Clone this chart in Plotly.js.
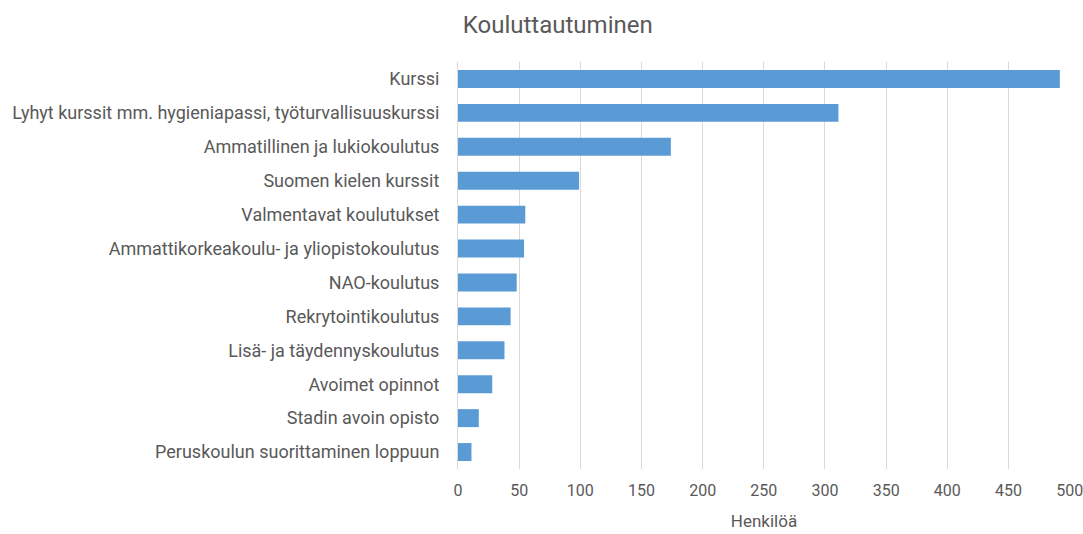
<!DOCTYPE html>
<html>
<head>
<meta charset="utf-8">
<script src="https://cdn.plot.ly/plotly-3.0.1.min.js"></script>
<style>html,body{margin:0;padding:0;background:#fff;}#chart{width:1083px;height:534px;}</style>
</head>
<body>
<div id="chart"></div>
<script>
const categories = [
  "Kurssi",
  "Lyhyt kurssit mm. hygieniapassi, työturvallisuuskurssi",
  "Ammatillinen ja lukiokoulutus",
  "Suomen kielen kurssit",
  "Valmentavat koulutukset",
  "Ammattikorkeakoulu- ja yliopistokoulutus",
  "NAO-koulutus",
  "Rekrytointikoulutus",
  "Lisä- ja täydennyskoulutus",
  "Avoimet opinnot",
  "Stadin avoin opisto",
  "Peruskoulun suorittaminen loppuun"
];
const values = [492, 311, 174, 99, 55, 54, 48, 43, 38, 28, 17, 11];
const xTicks = [0, 50, 100, 150, 200, 250, 300, 350, 400, 450, 500];

const font = "Roboto, 'Open Sans', sans-serif";
Plotly.newPlot("chart", [{
  type: "bar",
  orientation: "h",
  y: categories,
  x: values,
  marker: {color: "#5b9bd5"},
  hoverinfo: "x+y"
}], {
  width: 1083, height: 534,
  margin: {l: 458, r: 13, t: 62, b: 65},
  paper_bgcolor: "#fff", plot_bgcolor: "#fff",
  bargap: 0.47,
  font: {family: font, color: "#595959", size: 16},
  title: {text: "Kouluttautuminen", x: 0.515, xanchor: "center", y: 0.953, yanchor: "middle", font: {size: 24, color: "#595959", family: font}},
  xaxis: {
    range: [0, 500.3], tickvals: xTicks, ticktext: xTicks.map(String),
    showgrid: true, gridcolor: "#d9d9d9", gridwidth: 1,
    zeroline: false, showline: false, ticks: "",
    ticklabelstandoff: 10, ticklabeloverflow: "allow",
    tickfont: {size: 16, color: "#595959"},
    title: {text: "Henkilöä", font: {size: 17, color: "#595959"}, standoff: 16},
    fixedrange: true
  },
  yaxis: {
    autorange: "reversed", showgrid: false, zeroline: false,
    showline: true, linecolor: "#d9d9d9", linewidth: 1,
    ticks: "", ticklen: 0, ticklabelstandoff: 14,
    tickfont: {size: 18, color: "#595959"},
    automargin: false
  },
  showlegend: false
}, {displayModeBar: false, staticPlot: true});
</script>
</body>
</html>
